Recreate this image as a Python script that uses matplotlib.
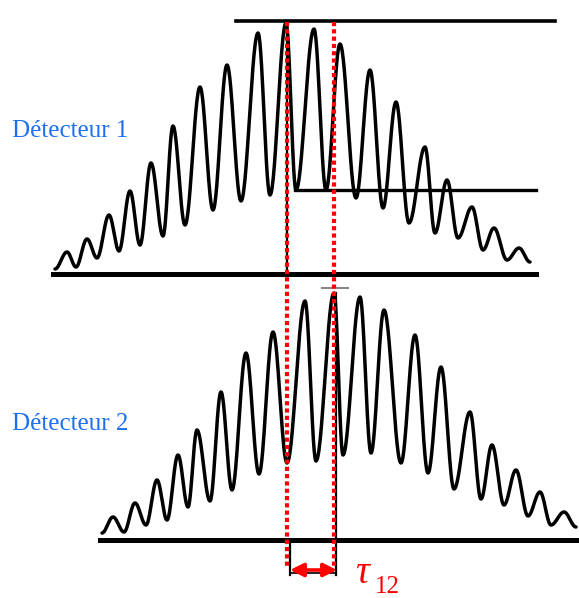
import numpy as np
import matplotlib
matplotlib.use("Agg")
import matplotlib.pyplot as plt

# fringe extrema (pixel units, y downwards)
det1_x = [55, 67, 76, 87, 97, 109, 119, 130, 140, 151, 163, 173, 185, 200, 213, 227, 241, 258, 270, 286,
          296, 314, 326, 340, 356, 370, 383, 396, 409, 425, 435, 447, 458, 472, 483, 494, 507, 519, 530]
det1_y = [269, 252, 267, 239, 258, 215, 251, 191, 245, 163, 236, 126, 225, 87, 210, 65, 201, 33, 195, 23,
          190, 29, 190, 44, 198, 70, 208, 102, 223, 147, 233, 180, 238, 207, 250, 228, 260, 248, 262]

det2_x = [102, 113, 124, 135, 146, 157, 167, 178, 188, 197, 210, 221, 232, 246, 259, 273, 287, 305, 316, 334,
          343, 360, 371, 384, 401, 415, 428, 441, 454, 470, 481, 492, 504, 516, 528, 540, 551, 564, 576]
det2_y = [533, 517, 532, 503, 525, 480, 520, 455, 507, 430, 501, 392, 490, 353, 474, 332, 463, 301, 461, 293,
          455, 297, 453, 310, 463, 335, 473, 367, 489, 412, 499, 445, 505, 470, 516, 492, 525, 512, 527]

labels = ["Détecteur 1", "Détecteur 2"]


def fringe(xs, ys, n=30):
    # smooth half-cosine between consecutive extrema
    px, py = [], []
    for i in range(len(xs) - 1):
        t = np.linspace(0, 1, n, endpoint=False)
        px.extend(xs[i] + (xs[i + 1] - xs[i]) * t)
        py.extend(ys[i] + (ys[i + 1] - ys[i]) * (1 - np.cos(np.pi * t)) / 2)
    px.append(xs[-1])
    py.append(ys[-1])
    return px, py


fig = plt.figure(figsize=(5.79, 5.98), dpi=100)
ax = fig.add_axes([0, 0, 1, 1])
ax.set_xlim(0, 579)
ax.set_ylim(598, 0)
ax.axis("off")

for xs, ys in [(det1_x, det1_y), (det2_x, det2_y)]:
    px, py = fringe(xs, ys)
    ax.plot(px, py, color="black", lw=2.5, solid_capstyle="round", zorder=3)

i1 = int(np.argmin(det1_y))
i2 = int(np.argmin(det2_y))
top1 = det1_y[i1] - 2
mid1 = det1_y[i1 + 1]

# reference lines
ax.plot([236, 555], [top1, top1], color="black", lw=2.6, zorder=2)
ax.plot([det1_x[i1 + 1] - 1, 536], [mid1, mid1], color="black", lw=2.4, zorder=2)
ax.plot([53, 536], [274, 274], color="black", lw=3.6, zorder=2)
ax.plot([100, 579], [540, 540], color="black", lw=3.6, zorder=2)
ax.plot([322, 348], [288, 288], color="#888888", lw=1.5, zorder=2)

xa = det1_x[i1] + 1
xb = det2_x[i2]
# black construction lines under the red ones
ax.plot([xa, xa], [top1, 274], color="black", lw=1.6, zorder=2)
ax.plot([xa + 3, xa + 3], [540, 575], color="black", lw=1.6, zorder=2)
ax.plot([xb + 2, xb + 2], [det2_y[i2], 575], color="black", lw=1.6, zorder=2)
ax.plot([xa + 3, xb + 2], [573, 573], color="black", lw=1.2, zorder=2)

for x in [xa, xb]:
    ax.plot([x, x], [top1 + 1, 567], color="red", lw=3.0,
            linestyle=(0, (1.0, 0.75)), zorder=4)

ax.annotate("", xy=(xa + 3, 570), xytext=(xb + 3, 570),
            arrowprops=dict(arrowstyle="<|-|>", color="red", lw=2.6,
                            mutation_scale=20, shrinkA=0, shrinkB=0), zorder=5)

ax.text(355, 583, "τ", color="red", fontsize=28, fontstyle="italic",
        family="Liberation Serif", ha="left", va="baseline")
ax.text(375, 593, "12", color="red", fontsize=18,
        family="Liberation Serif", ha="left", va="baseline")

for lab, y in zip(labels, [131, 424]):
    ax.text(12, y, lab, color="#1b6ff5", fontsize=18,
            family="Liberation Serif", ha="left", va="center")

fig.savefig("out.png", dpi=100, facecolor="white")
